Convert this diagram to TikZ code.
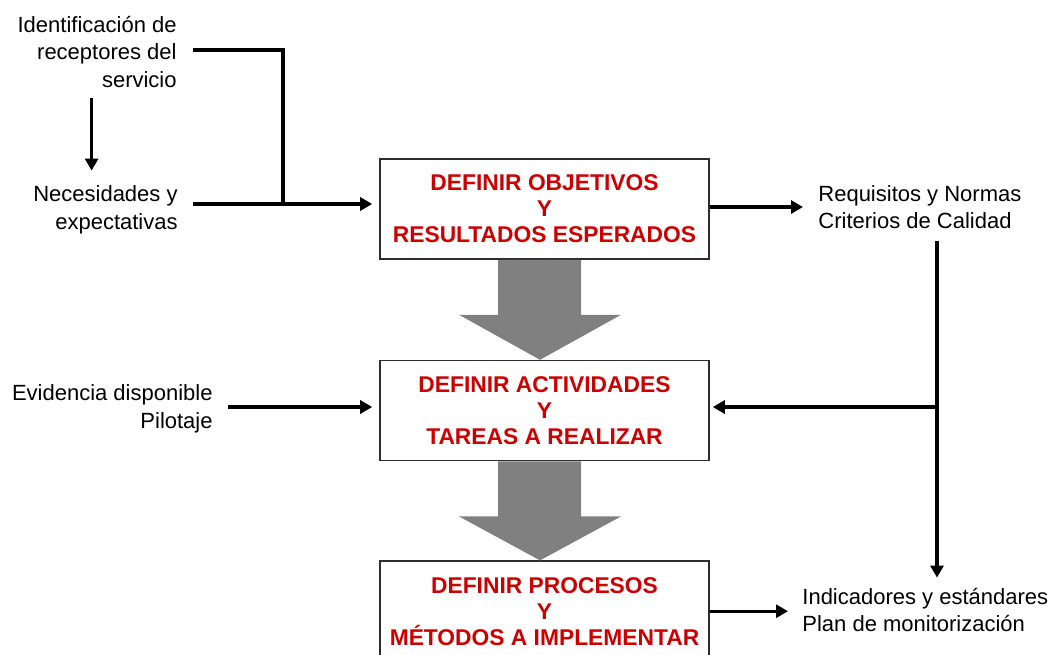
\documentclass[tikz,border=0pt]{standalone}
\usepackage{fontspec}
\setmainfont{Liberation Sans}
\usetikzlibrary{positioning,calc,arrows.meta}
\definecolor{boxred}{RGB}{204,0,0}
\definecolor{arrowgray}{RGB}{128,128,128}
\tikzset{
    stage/.style={draw=gray!35!black, line width=0.8pt, fill=white,
        minimum width=164.5pt, minimum height=50pt, inner sep=0pt,
        align=center, text=boxred,
        font=\fontsize{11.4}{13}\selectfont\bfseries},
    sidetext/.style={inner sep=0pt, font=\fontsize{11}{13.8}\selectfont},
    link/.style={line width=1.6pt},
    arr/.style={link, -{Triangle[length=6pt,width=6.5pt]}},
    fatarrow/.style={fill=arrowgray, draw=none},
}

\begin{document}
\begin{tikzpicture}[x=0.5pt, y=-0.5pt]
    \clip (0,0) rectangle (1054,654);
    % stages
    \node[stage] (obj) at (544.5,209) {DEFINIR OBJETIVOS\\Y\\RESULTADOS ESPERADOS};
    \node[stage, below=50pt of obj] (act) {DEFINIR ACTIVIDADES\\Y\\TAREAS A REALIZAR};
    \node[stage, below=49.5pt of act] (proc) {DEFINIR PROCESOS\\Y\\MÉTODOS A IMPLEMENTAR};

    % inputs and outputs
    \node[sidetext, anchor=east, align=right] (recep) at (177,52) {Identificación de\\receptores del\\servicio};
    \node[sidetext, anchor=east, align=right] (neces) at (178,210) {Necesidades y\\expectativas};
    \node[sidetext, anchor=east, align=right] (evid) at (213,409) {Evidencia disponible\\Pilotaje};
    \node[sidetext, anchor=west, align=left] (requis) at (818,207) {Requisitos y Normas\\Criterios de Calidad};
    \node[sidetext, anchor=west, align=left] (indic) at (802,610) {Indicadores y estándares\\Plan de monitorización};

    \coordinate (join) at (283,204);
    \coordinate (spine) at (937,407);

    % big grey arrows between stages
    \foreach \a/\b in {obj/act, act/proc}
        \fill[fatarrow] ($(\a.south)+(-46.5,0)$) -- ++(83,0) -- ++(0,55) -- ++(40,0)
            -- ($(\b.north)+(-4.5,0)$) -- ($(\a.south)+(-85.5,55)$) -- ++(39,0) -- cycle;

    % connectors
    \draw[arr, shorten <=5pt, shorten >=7.5pt] ([xshift=-2.75pt]recep.south) -- ([xshift=-2.75pt]recep.south |- neces.north);
    \draw[link] ([xshift=8pt]recep.east |- 0,50) -| (join);
    \draw[arr, shorten >=3.5pt] ([xshift=7.5pt]neces.east |- join) -- (obj.west |- join);
    \draw[arr, shorten >=3.5pt] ([xshift=7.5pt]evid.east |- spine) -- (act.west |- spine);
    \draw[arr, shorten >=7.5pt] ([yshift=1pt]obj.east) -- ([yshift=1pt]obj.east -| requis.west);
    \draw[arr, shorten <=6pt, shorten >=5pt] (requis.south -| spine) -- (indic.north -| spine);
    \draw[arr, shorten >=1.5pt] (spine) -- (act.east |- spine);
    \draw[arr, shorten >=7pt] (proc.east) -- (proc.east -| indic.west);
\end{tikzpicture}
\end{document}
